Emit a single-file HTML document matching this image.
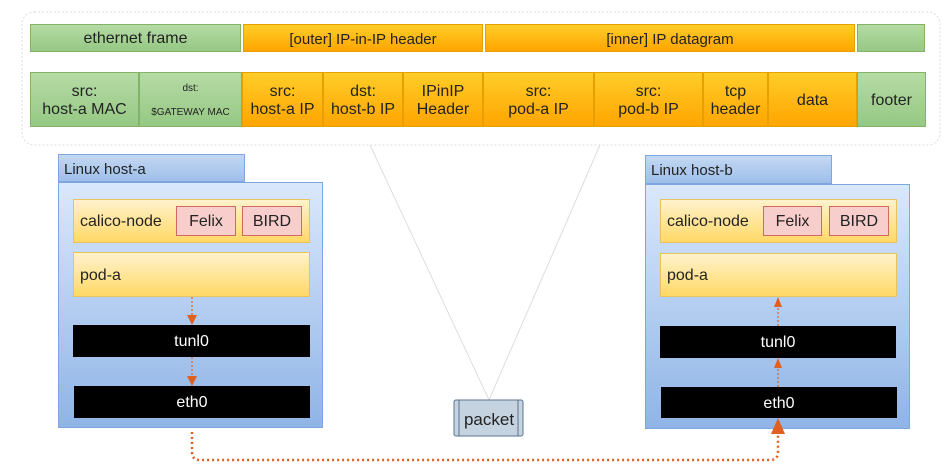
<!DOCTYPE html>
<html><head><style>
body{margin:0;width:945px;height:467px;background:#fff;position:relative;overflow:hidden;font-family:"Liberation Sans",sans-serif;color:#222}
.a{position:absolute;box-sizing:border-box;display:flex;align-items:center;justify-content:center;text-align:center;line-height:1.15;padding-top:3px}
.g{background:linear-gradient(#b5dba5,#96c884);border:1px solid #82b366}
.o{background:linear-gradient(#ffcd28,#ffa500);border:1px solid #e8a000}
.tab{background:linear-gradient(#c4d8f2,#9ebfea);border:1px solid #7ea6e0;justify-content:flex-start;padding-left:5px;font-size:15px}
.body{background:linear-gradient(#dae8fc,#8fb4e6);border:1px solid #7ea6e0}
.cal{background:linear-gradient(#fff2cc,#ffd966);border:1px solid #e6c35c;justify-content:flex-start;padding-left:6px;font-size:16px}
.red{background:#f8cecc;border:1px solid #d06a60;font-size:16px}
.blk{background:#000;color:#fff;font-size:16px}
</style></head><body>
<svg style="position:absolute;left:0;top:0" width="945" height="467">
<rect x="22" y="12" width="918" height="133" rx="12" fill="none" stroke="#ddd" stroke-dasharray="2,2"/>
<line x1="489" y1="400" x2="370" y2="145" stroke="#ddd"/>
<line x1="489" y1="400" x2="600" y2="145" stroke="#ddd"/>
<path d="M192 432 V452 Q192 460 200 460 H770 Q778 460 778 452 V432" fill="none" stroke="#e06020" stroke-width="2.5" stroke-dasharray="2,3"/>
</svg>
<div class="a g" style="left:30px;top:24px;width:211px;height:28px;font-size:16px">ethernet frame</div>
<div class="a o" style="left:243px;top:24px;width:240px;height:28px;font-size:15px">[outer] IP-in-IP header</div>
<div class="a o" style="left:485px;top:24px;width:370px;height:28px;font-size:15px">[inner] IP datagram</div>
<div class="a g" style="left:857px;top:24px;width:68px;height:28px"></div>
<div class="a g" style="left:30px;top:72px;width:109px;height:55px;font-size:16px">src:<br>host-a MAC</div>
<div class="a g" style="left:139px;top:72px;width:103px;height:55px;font-size:10px;line-height:2.4">dst:<br>$GATEWAY MAC</div>
<div class="a o" style="left:242px;top:72px;width:81px;height:55px;font-size:16px">src:<br>host-a IP</div>
<div class="a o" style="left:323px;top:72px;width:80px;height:55px;font-size:16px">dst:<br>host-b IP</div>
<div class="a o" style="left:403px;top:72px;width:80px;height:55px;font-size:16px">IPinIP<br>Header</div>
<div class="a o" style="left:483px;top:72px;width:111px;height:55px;font-size:16px">src:<br>pod-a IP</div>
<div class="a o" style="left:594px;top:72px;width:109px;height:55px;font-size:16px">src:<br>pod-b IP</div>
<div class="a o" style="left:703px;top:72px;width:65px;height:55px;font-size:16px">tcp<br>header</div>
<div class="a o" style="left:768px;top:72px;width:89px;height:55px;font-size:16px">data</div>
<div class="a g" style="left:857px;top:72px;width:69px;height:55px;font-size:16px">footer</div>

<div class="a body" style="left:58px;top:182px;width:265px;height:246px"></div>
<div class="a tab" style="left:58px;top:154px;width:187px;height:28px">Linux host-a</div>
<div class="a cal" style="left:73px;top:199px;width:237px;height:44px">calico-node</div>
<div class="a red" style="left:176px;top:206px;width:60px;height:30px">Felix</div>
<div class="a red" style="left:242px;top:206px;width:60px;height:30px">BIRD</div>
<div class="a cal" style="left:73px;top:252px;width:237px;height:45px">pod-a</div>
<div class="a blk" style="left:73px;top:325px;width:237px;height:32px">tunl0</div>
<div class="a blk" style="left:74px;top:386px;width:236px;height:32px">eth0</div>

<div class="a body" style="left:645px;top:184px;width:265px;height:245px"></div>
<div class="a tab" style="left:645px;top:155px;width:187px;height:29px">Linux host-b</div>
<div class="a cal" style="left:660px;top:199px;width:237px;height:44px">calico-node</div>
<div class="a red" style="left:763px;top:206px;width:59px;height:30px">Felix</div>
<div class="a red" style="left:829px;top:206px;width:60px;height:30px">BIRD</div>
<div class="a cal" style="left:660px;top:253px;width:237px;height:44px">pod-a</div>
<div class="a blk" style="left:660px;top:326px;width:236px;height:32px">tunl0</div>
<div class="a blk" style="left:661px;top:387px;width:236px;height:31px">eth0</div>

<svg style="position:absolute;left:0;top:0" width="945" height="467">
<g stroke="#e06020" stroke-width="1.2" stroke-dasharray="2,2">
<line x1="192" y1="297" x2="192" y2="316"/><line x1="192" y1="357" x2="192" y2="377"/>
<line x1="778" y1="304" x2="778" y2="326"/><line x1="778" y1="365" x2="778" y2="387"/>
</g>
<g fill="#e06020">
<polygon points="187,315 197,315 192,325"/><polygon points="187,376 197,376 192,386"/>
<polygon points="774,307 782,307 778,297"/><polygon points="774,368 782,368 778,358"/>
<polygon points="771,434 785,434 778,418"/>
</g>
<rect x="454" y="400" width="69" height="36" rx="2" fill="#c5d3e0" stroke="#5a7590"/>
<line x1="459" y1="400" x2="459" y2="436" stroke="#5a7590"/><line x1="518" y1="400" x2="518" y2="436" stroke="#5a7590"/>
<text x="489" y="425" font-size="17" text-anchor="middle" font-family="Liberation Sans" fill="#222">packet</text>
</svg>
</body></html>
